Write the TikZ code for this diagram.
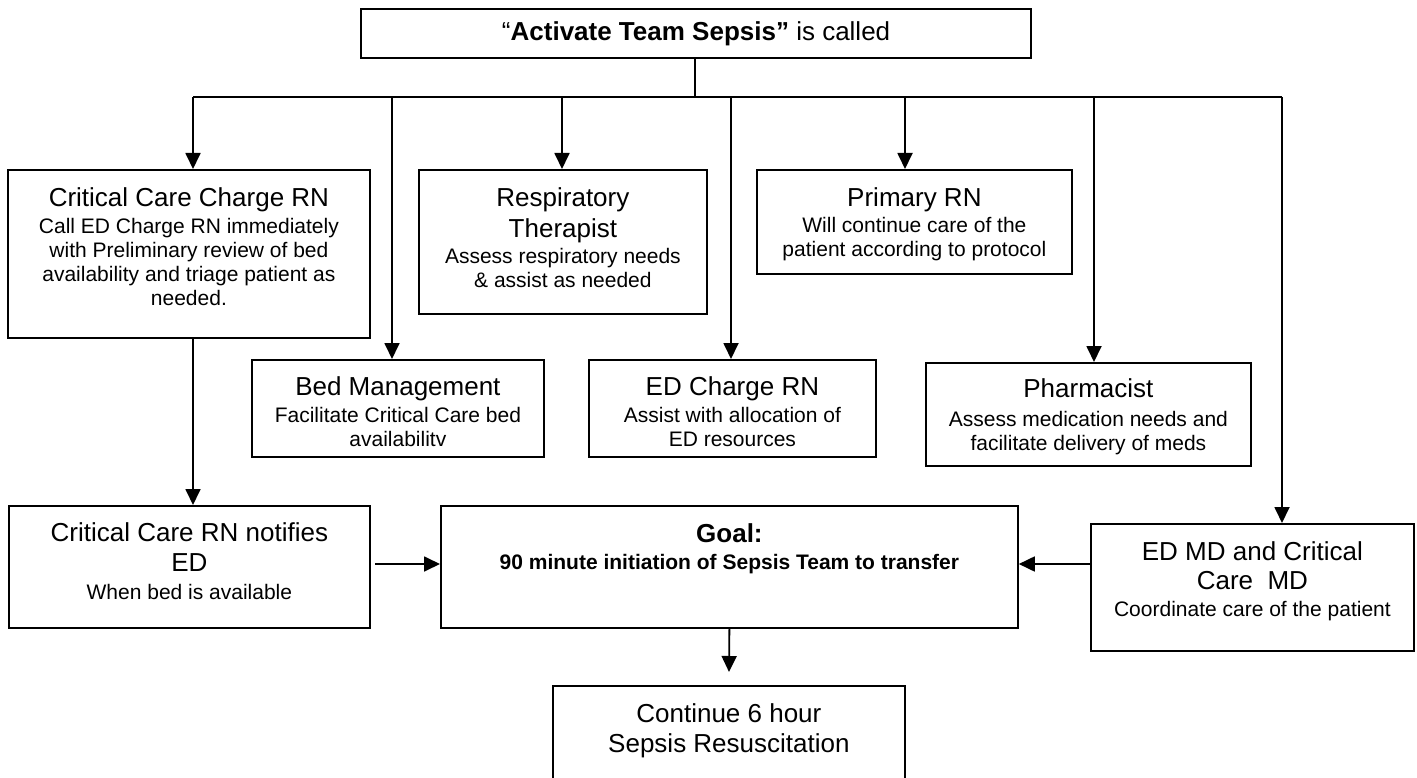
\documentclass[tikz,border=0pt]{standalone}
\usepackage{fontspec}
\setmainfont{Liberation Sans}
\usetikzlibrary{arrows.meta}
\newcommand\boxtitle[1]{{\fontsize{26}{30}\selectfont #1}}
\begin{document}
\begin{tikzpicture}[x=1pt,y=-1pt,
  box/.style={draw, line width=1.8pt, inner sep=0pt, anchor=north west},
  txt/.style={anchor=north, align=center, inner sep=0pt, font=\fontsize{21}{24}\selectfont},
  arr/.style={line width=1.8pt, -{Triangle[length=16pt,width=15pt]}},
  ln/.style={line width=1.8pt},
  thinln/.style={line width=1.1pt}]
\useasboundingbox (0,0) rectangle (1417,778);
\clip (0,0) rectangle (1417,778);

% boxes
\node[box, line width=2.2pt, minimum width=670pt, minimum height=49pt, font=\fontsize{26}{30}\selectfont] (top) at (360,8) {“\textbf{Activate Team Sepsis”} is called};
\node[box, minimum width=362pt, minimum height=168pt] (ccc) at (7,169) {};
\node[box, minimum width=288pt, minimum height=144pt] (resp) at (418,169) {};
\node[box, minimum width=315pt, minimum height=104pt] (prim) at (756,169) {};
\node[box, minimum width=292pt, minimum height=97pt] (bed) at (251,359) {};
\node[box, minimum width=287pt, minimum height=97pt] (edc) at (588,359) {};
\node[box, minimum width=325pt, minimum height=103pt] (pharm) at (925,362) {};
\node[box, minimum width=361pt, minimum height=122pt] (notif) at (8,505) {};
\node[box, minimum width=577pt, minimum height=122pt] (goal) at (440,505) {};
\node[box, minimum width=323pt, minimum height=127pt] (edmd) at (1090,523) {};
\node[box, minimum width=352pt, minimum height=130pt] (cont) at (552,685) {};

% texts
\node[txt] (ccct) at (ccc.north |- 0,187) {\boxtitle{Critical Care Charge RN}\\[3pt] Call ED Charge RN immediately\\ with Preliminary review of bed\\ availability and triage patient as\\ needed.};
\node[txt] (respt) at (resp.north |- 0,187) {\boxtitle{Respiratory}\\[6pt]\boxtitle{Therapist}\\[2pt] Assess respiratory needs\\ \& assist as needed};
\node[txt] (primt) at (prim.north |- 0,187) {\boxtitle{Primary RN}\\[2pt] Will continue care of the\\ patient according to protocol};
\node[txt] (bedt) at (bed.north |- 0,376) {\boxtitle{Bed Management}\\[3pt] Facilitate Critical Care bed\\ availabilitv};
\node[txt] (edct) at (edc.north |- 0,376) {\boxtitle{ED Charge RN}\\[3pt] Assist with allocation of\\ ED resources};
\node[txt] (pharmt) at (pharm.north |- 0,378) {\boxtitle{Pharmacist}\\[5pt] Assess medication needs and\\ facilitate delivery of meds};
\node[txt] (notift) at (notif.north |- 0,522) {\boxtitle{Critical Care RN notifies}\\[6pt]\boxtitle{ED}\\[4pt] When bed is available};
\node[txt] (goalt) at (goal.north |- 0,523) {\boxtitle{\textbf{Goal:}}\\[3pt] \textbf{90 minute initiation of Sepsis Team to transfer}};
\node[txt] (edmdt) at (edmd.north |- 0,541) {\boxtitle{ED MD and Critical}\\[5pt]\boxtitle{Care\ \ MD}\\[3pt] Coordinate care of the patient};
\node[txt] (contt) at (cont.north |- 0,703) {\boxtitle{Continue 6 hour}\\[6pt]\boxtitle{Sepsis Resuscitation}};

% bus
\coordinate (jn) at (695,97);
\coordinate (b1) at (193,97);
\coordinate (b2) at (392,97);
\coordinate (b3) at (562,97);
\coordinate (b4) at (731,97);
\coordinate (b5) at (905,97);
\coordinate (b6) at (1094,97);
\coordinate (b7) at (1282,97);
\draw[thinln] (top.south -| jn) -- (jn);
\draw[ln] (b1) -- (b7);
\draw[arr] (b1) -- (b1 |- ccc.north);
\draw[arr] (b2) -- (b2 |- bed.north);
\draw[arr] (b3) -- (b3 |- resp.north);
\draw[arr] (b4) -- (b4 |- edc.north);
\draw[arr] (b5) -- (b5 |- prim.north);
\draw[arr] (b6) -- (b6 |- pharm.north);
\draw[arr] (b7) -- (b7 |- edmd.north);

% lower connectors
\draw[arr] (b1 |- ccc.south) -- (b1 |- notif.north);
\coordinate (n1) at (375,564);
\draw[arr] (n1) -- (n1 -| goal.west);
\draw[arr] (edmd.west |- n1) -- (goal.east |- n1);
\draw[arr, shorten >=13pt] (goal.south) -- (cont.north);
\end{tikzpicture}
\end{document}
